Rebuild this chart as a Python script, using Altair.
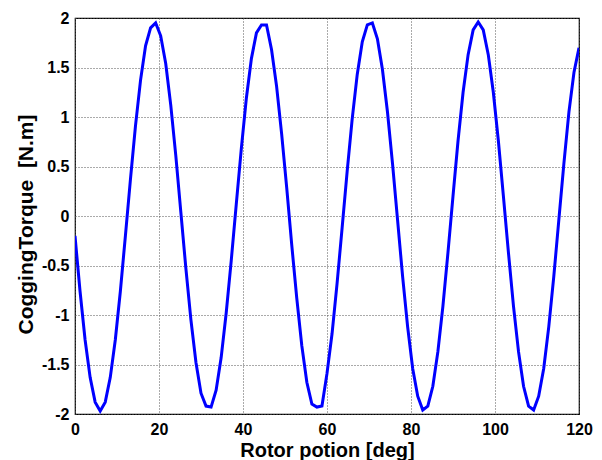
import altair as alt
import pandas as pd

rotor_deg = [
    0.0, 1.2, 2.4, 3.6, 4.8, 6.0, 7.2, 8.4, 9.6, 10.8,
    12.0, 13.2, 14.4, 15.6, 16.8, 18.0, 19.2, 20.4, 21.6, 22.8,
    24.0, 25.2, 26.4, 27.6, 28.8, 30.0, 31.2, 32.4, 33.6, 34.8,
    36.0, 37.2, 38.4, 39.6, 40.8, 42.0, 43.2, 44.4, 45.6, 46.8,
    48.0, 49.2, 50.4, 51.6, 52.8, 54.0, 55.2, 56.4, 57.6, 58.8,
    60.0, 61.2, 62.4, 63.6, 64.8, 66.0, 67.2, 68.4, 69.6, 70.8,
    72.0, 73.2, 74.4, 75.6, 76.8, 78.0, 79.2, 80.4, 81.6, 82.8,
    84.0, 85.2, 86.4, 87.6, 88.8, 90.0, 91.2, 92.4, 93.6, 94.8,
    96.0, 97.2, 98.4, 99.6, 100.8, 102.0, 103.2, 104.4, 105.6, 106.8,
    108.0, 109.2, 110.4, 111.6, 112.8, 114.0, 115.2, 116.4, 117.6, 118.8,
    120.0,
]
cogging_torque = [
    -0.20, -0.76, -1.25, -1.63, -1.88, -1.97, -1.88, -1.63, -1.25, -0.76,
    -0.20, 0.37, 0.91, 1.37, 1.72, 1.90, 1.95, 1.82, 1.54, 1.12,
    0.61, 0.04, -0.53, -1.05, -1.48, -1.79, -1.92, -1.93, -1.76, -1.43,
    -0.98, -0.45, 0.12, 0.68, 1.19, 1.59, 1.85, 1.93, 1.93, 1.68,
    1.31, 0.83, 0.29, -0.29, -0.83, -1.31, -1.68, -1.90, -1.93, -1.92,
    -1.59, -1.19, -0.68, -0.12, 0.45, 0.98, 1.43, 1.76, 1.93, 1.95,
    1.79, 1.48, 1.05, 0.53, -0.04, -0.61, -1.12, -1.54, -1.82, -1.96,
    -1.92, -1.72, -1.37, -0.91, -0.37, 0.20, 0.76, 1.25, 1.63, 1.88,
    1.96, 1.88, 1.63, 1.25, 0.76, 0.20, -0.37, -0.91, -1.37, -1.72,
    -1.92, -1.96, -1.82, -1.54, -1.12, -0.61, -0.04, 0.53, 1.05, 1.45,
    1.70,
]
x_ticks = [0, 20, 40, 60, 80, 100, 120]
y_ticks = [-2, -1.5, -1, -0.5, 0, 0.5, 1, 1.5, 2]

df = pd.DataFrame({"x": rotor_deg, "y": cogging_torque})

FONT = "Liberation Sans"

chart = (
    alt.Chart(df)
    .mark_line(color="#0000FF", strokeWidth=3, clip=True)
    .encode(
        x=alt.X(
            "x:Q",
            scale=alt.Scale(domain=[0, 120], nice=False, zero=False),
            axis=alt.Axis(
                values=x_ticks,
                title="Rotor potion [deg]",
                labelExpr="'' + datum.value",
            ),
        ),
        y=alt.Y(
            "y:Q",
            scale=alt.Scale(domain=[-2, 2], nice=False, zero=False),
            axis=alt.Axis(
                values=y_ticks,
                title="CoggingTorque\u00a0 [N.m]",
                labelExpr="'' + datum.value",
                titleY=206,
            ),
        ),
    )
    .properties(
        width=504,
        height=396,
        autosize=alt.AutoSizeParams(type="none"),
        padding={"left": 75, "top": 18, "right": 23, "bottom": 46},
    )
    .configure_view(stroke="black", strokeWidth=1.2)
    .configure_axis(
        domain=False,
        ticks=False,
        tickSize=0,
        grid=True,
        gridColor="#555555",
        gridDash=[1, 2],
        gridWidth=1,
        labelFlush=False,
        labelOverlap=False,
        labelFont=FONT,
        labelFontSize=16,
        labelFontWeight="bold",
        labelColor="black",
        titleFont=FONT,
        titleFontWeight="bold",
        titleColor="black",
    )
    .configure_axisX(labelPadding=7, titleFontSize=20, titlePadding=3)
    .configure_axisY(labelPadding=6, titleFontSize=21, titlePadding=5)
)

chart.save("out.html", embed_options={"renderer": "svg", "actions": False})
